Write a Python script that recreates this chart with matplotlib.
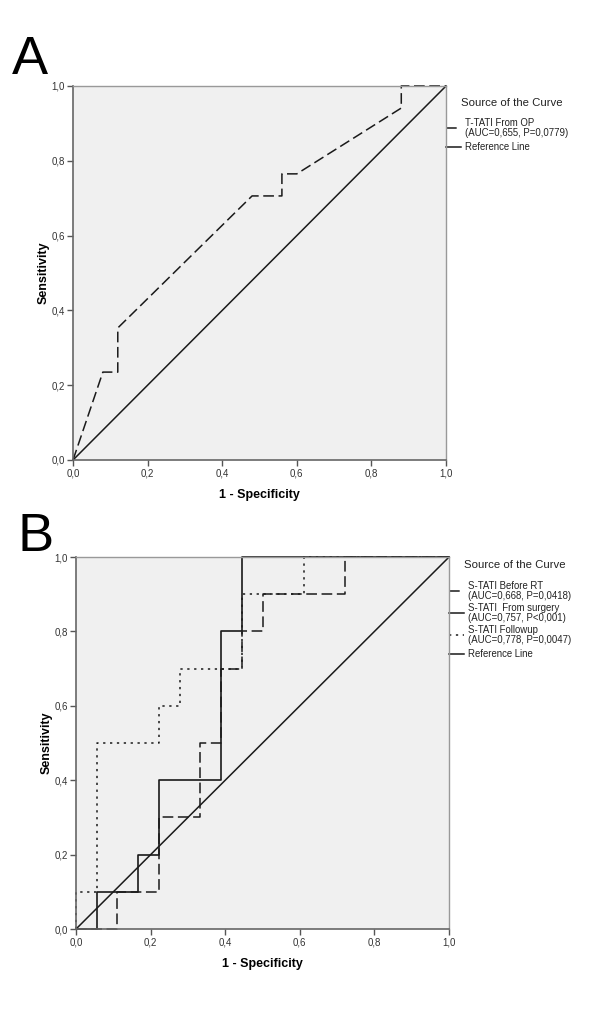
import matplotlib
matplotlib.use('Agg')
import matplotlib.pyplot as plt

plt.rcParams['font.family'] = ['Liberation Sans', 'DejaVu Sans']

# Panel A: T-TATI From OP
fpr_a = [0, 0.08, 0.12, 0.12, 0.48, 0.56, 0.56, 0.60, 0.88, 0.88, 1.0]
tpr_a = [0, 0.235, 0.235, 0.353, 0.706, 0.706, 0.765, 0.765, 0.941, 1.0, 1.0]

# Panel B
fpr_before = [0, 0.111, 0.111, 0.222, 0.222, 0.333, 0.333, 0.389, 0.389, 0.444, 0.444, 0.5, 0.5, 0.722, 0.722, 1.0]
tpr_before = [0, 0, 0.1, 0.1, 0.3, 0.3, 0.5, 0.5, 0.7, 0.7, 0.8, 0.8, 0.9, 0.9, 1.0, 1.0]
fpr_surgery = [0, 0.056, 0.056, 0.167, 0.167, 0.222, 0.222, 0.389, 0.389, 0.444, 0.444, 1.0]
tpr_surgery = [0, 0, 0.1, 0.1, 0.2, 0.2, 0.4, 0.4, 0.8, 0.8, 1.0, 1.0]
fpr_follow = [0, 0, 0.056, 0.056, 0.222, 0.222, 0.278, 0.278, 0.444, 0.444, 0.611, 0.611, 1.0]
tpr_follow = [0, 0.1, 0.1, 0.5, 0.5, 0.6, 0.6, 0.7, 0.7, 0.9, 0.9, 1.0, 1.0]

labels_a = ['T-TATI From OP\n(AUC=0,655, P=0,0779)', 'Reference Line']
labels_b = ['S-TATI Before RT\n(AUC=0,668, P=0,0418)',
            'S-TATI  From surgery\n(AUC=0,757, P<0,001)',
            'S-TATI Followup\n(AUC=0,778, P=0,0047)',
            'Reference Line']

ticks = [0, 0.2, 0.4, 0.6, 0.8, 1.0]
tick_labels = ['0,0', '0,2', '0,4', '0,6', '0,8', '1,0']

LC = '#1a1a1a'
DASH = (0, (7, 3))
DOT = (0, (1.5, 3))


def style_axes(ax):
    ax.set_facecolor('#f0f0f0')
    ax.set_xlim(0, 1)
    ax.set_ylim(0, 1)
    ax.set_xticks(ticks)
    ax.set_xticklabels(tick_labels)
    ax.set_yticks(ticks)
    ax.set_yticklabels(tick_labels)
    ax.tick_params(length=4, width=1, color='#555555', labelsize=7, pad=2,
                   labelcolor='#333333')
    for side in ['left', 'bottom']:
        ax.spines[side].set_color('#666666')
        ax.spines[side].set_linewidth(1.2)
    for side in ['top', 'right']:
        ax.spines[side].set_color('#999999')
        ax.spines[side].set_linewidth(1.0)
    ax.set_xlabel('1 - Specificity', fontsize=9, fontweight='bold', labelpad=8)
    ax.set_ylabel('Sensitivity', fontsize=9, fontweight='bold', labelpad=1)
    ax.plot([0, 1], [0, 1], color=LC, lw=1.1, clip_on=False)


def legend(ax, entries, title_y):
    ax.text(1.04, title_y, 'Source of the Curve', transform=ax.transAxes,
            fontsize=8.2, va='center', ha='left', color='#222222')
    for y, ls, lab in entries:
        ax.plot([1.0, 1.04], [y, y], transform=ax.transAxes, color=LC,
                lw=1.1, ls=ls, clip_on=False)
        ax.text(1.05, y, lab, transform=ax.transAxes, fontsize=6.9,
                va='center', ha='left', linespacing=1.05, color='#222222')


fig = plt.figure(figsize=(6, 10.15), dpi=100)

ax1 = fig.add_axes([0.1217, 0.5468, 0.6217, 0.3685])
style_axes(ax1)
ax1.plot(fpr_a, tpr_a, color=LC, lw=1.1, ls=DASH, clip_on=False)
legend(ax1, [(0.888, DASH, labels_a[0]), (0.837, '-', labels_a[1])], 0.955)
fig.text(0.02, 0.927, 'A', fontsize=39, ha='left', va='baseline')

ax2 = fig.add_axes([0.1267, 0.0847, 0.6217, 0.3665])
style_axes(ax2)
ax2.plot(fpr_before, tpr_before, color=LC, lw=1.1, ls=DASH, clip_on=False)
ax2.plot(fpr_surgery, tpr_surgery, color=LC, lw=1.2, ls='-', clip_on=False)
ax2.plot(fpr_follow, tpr_follow, color=LC, lw=1.1, ls=DOT, clip_on=False)
legend(ax2, [(0.909, DASH, labels_b[0]), (0.849, '-', labels_b[1]),
             (0.790, DOT, labels_b[2]), (0.739, '-', labels_b[3])], 0.978)
fig.text(0.03, 0.457, 'B', fontsize=39, ha='left', va='baseline')

fig.savefig('out.png', dpi=100)
